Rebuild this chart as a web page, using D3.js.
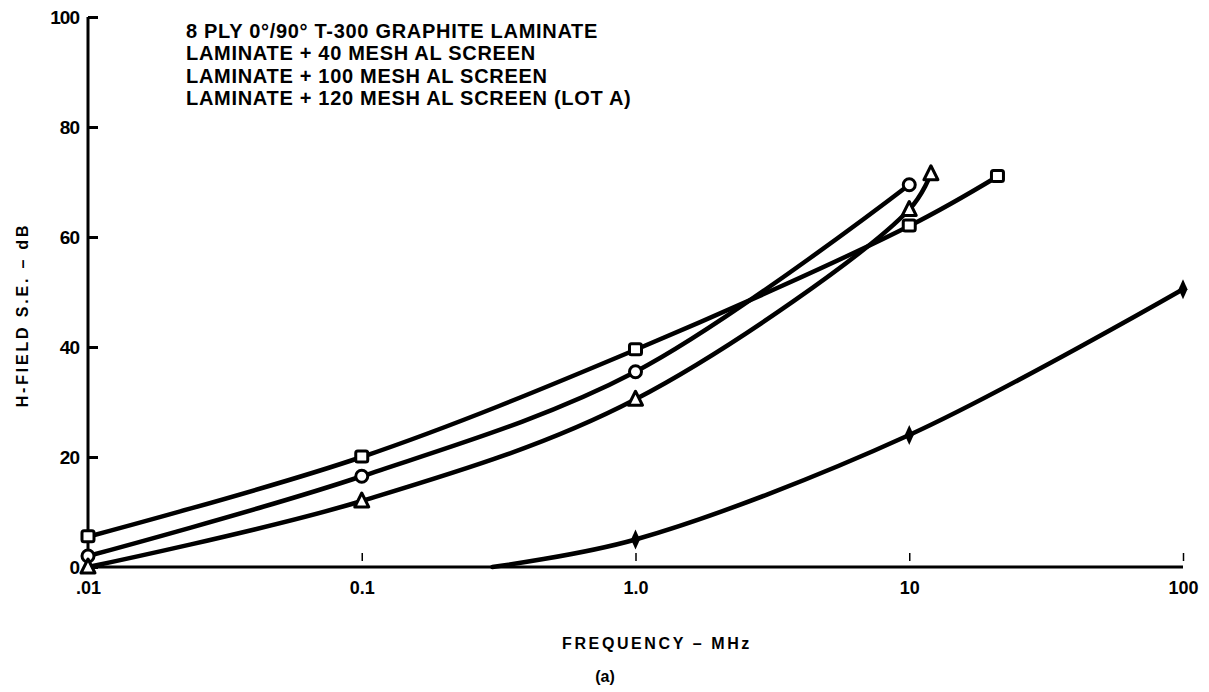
<!DOCTYPE html>
<html><head><meta charset="utf-8">
<script src="https://cdn.jsdelivr.net/npm/d3@7"></script>
<style>
html,body{margin:0;padding:0;background:#fff;}
svg text{font-family:"Liberation Sans",Arial,sans-serif;font-weight:bold;fill:#000;}
</style></head>
<body>
<svg id="chart" width="1209" height="692"></svg>
<script>
// ---- data ----
const xTicks = [0.01, 0.1, 1, 10, 100];
const xTickLabels = [".01", "0.1", "1.0", "10", "100"];
const yTicks = [0, 20, 40, 60, 80, 100];
const legendLines = [
  "8 PLY 0\u00B0/90\u00B0 T-300 GRAPHITE LAMINATE",
  "LAMINATE + 40 MESH AL SCREEN",
  "LAMINATE + 100 MESH AL SCREEN",
  "LAMINATE + 120 MESH AL SCREEN (LOT A)"
];
// laminate only (diamond)
const laminateFreq = [0.3, 1, 10, 100];
const laminateSE   = [0, 5, 24, 50.5];
const laminateMark = [false, true, true, true];
// square series
const squareFreq = [0.01, 0.1, 1, 10, 21];
const squareSE   = [5.5, 20, 39.5, 62, 71];
// circle series
const circleFreq = [0.01, 0.1, 1, 10];
const circleSE   = [2, 16.5, 35.5, 69.5];
// triangle series
const triFreq = [0.01, 0.1, 1, 10, 12];
const triSE   = [0, 12, 30.5, 65, 71.5];

// ---- layout ----
const svg = d3.select("#chart");
const x = d3.scaleLog().domain([0.01, 100]).range([88, 1183]);
const y = d3.scaleLinear().domain([0, 100]).range([567, 17]);

const line = d3.line().x(d => x(d[0])).y(d => y(d[1])).curve(d3.curveCatmullRom.alpha(0.5));

function series(fx, fy) { return fx.map((f, i) => [f, fy[i]]); }

// axes
const yAxis = d3.axisLeft(y).tickValues(yTicks).tickSize(-10).tickPadding(9).tickFormat(d3.format("d"));
const gy = svg.append("g").attr("transform", "translate(88,0)").call(yAxis);
gy.select(".domain").attr("stroke", "#000").attr("stroke-width", 3).attr("d", "M0,17V567");
gy.selectAll(".tick line").attr("stroke", "#000").attr("stroke-width", 3);
gy.selectAll(".tick text").style("font-size", "19px").style("letter-spacing", "-1px").attr("dy", "0.35em");

const xAxis = d3.axisBottom(x).tickValues(xTicks).tickSize(-8).tickPadding(14)
  .tickFormat((d, i) => xTickLabels[i]);
const gx = svg.append("g").attr("transform", "translate(0,567)").call(xAxis);
gx.select(".domain").attr("stroke", "#000").attr("stroke-width", 3).attr("d", "M88,0H1183");
gx.selectAll(".tick line").attr("stroke", "#000").attr("stroke-width", 1.5).attr("y1", -6).attr("y2", -14);
gx.selectAll(".tick text").style("font-size", "18px");

// axis titles
svg.append("text").attr("transform", "translate(28,315) rotate(-90)").attr("text-anchor", "middle")
  .style("font-size", "16px").style("letter-spacing", "2.8px").text("H-FIELD S.E. \u2013 dB");
svg.append("text").attr("x", 657).attr("y", 649).attr("text-anchor", "middle")
  .style("font-size", "16px").style("letter-spacing", "2.6px").text("FREQUENCY \u2013 MHz");
svg.append("text").attr("x", 605).attr("y", 682).attr("text-anchor", "middle")
  .style("font-size", "16px").text("(a)");

// legend text
svg.append("g").selectAll("text").data(legendLines).join("text")
  .attr("x", 186).attr("y", (d, i) => 38 + i * 22.3)
  .style("font-size", "20px").style("letter-spacing", "0.7px").text(d => d);

// curves
const all = [
  series(laminateFreq, laminateSE),
  series(squareFreq, squareSE),
  series(circleFreq, circleSE),
  series(triFreq, triSE)
];
svg.append("g").selectAll("path").data(all).join("path")
  .attr("d", line).attr("fill", "none").attr("stroke", "#000").attr("stroke-width", 4.5)
  .attr("stroke-linecap", "round");

// markers
const mk = svg.append("g");
const lamPts = series(laminateFreq, laminateSE).filter((d, i) => laminateMark[i]);
mk.selectAll(".dia").data(lamPts).join("path")
  .attr("transform", d => `translate(${x(d[0])},${y(d[1])})`)
  .attr("d", "M0,-10L4.5,0L0,10L-4.5,0Z").attr("fill", "#000");
mk.selectAll(".sq").data(series(squareFreq, squareSE)).join("rect")
  .attr("x", d => x(d[0]) - 6).attr("y", d => y(d[1]) - 6).attr("width", 12).attr("height", 11)
  .attr("rx", 2).attr("fill", "#fff").attr("stroke", "#000").attr("stroke-width", 3);
mk.selectAll(".ci").data(series(circleFreq, circleSE)).join("circle")
  .attr("cx", d => x(d[0])).attr("cy", d => y(d[1])).attr("r", 6)
  .attr("fill", "#fff").attr("stroke", "#000").attr("stroke-width", 3);
mk.selectAll(".tr").data(series(triFreq, triSE)).join("path")
  .attr("transform", d => `translate(${x(d[0])},${y(d[1])})`)
  .attr("d", "M0,-8L7,6L-7,6Z").attr("fill", "#fff").attr("stroke", "#000").attr("stroke-width", 3)
  .attr("stroke-linejoin", "round");
</script>
</body></html>
